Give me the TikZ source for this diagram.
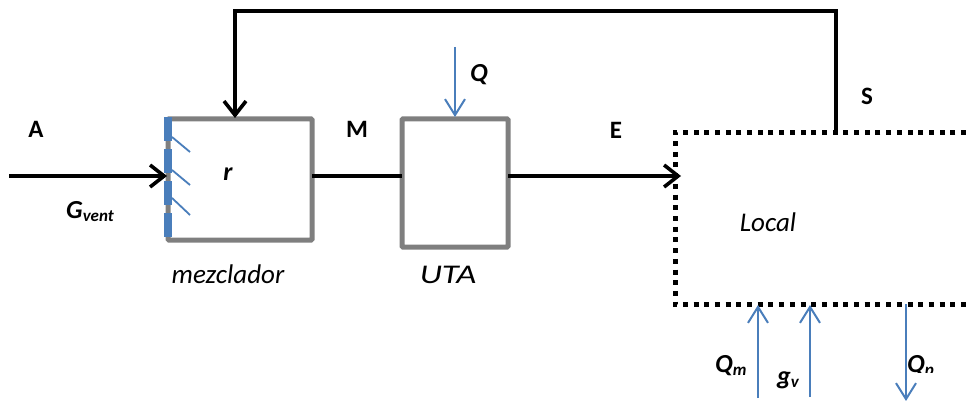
\documentclass[tikz,border=0pt]{standalone}
\usepackage{fontspec}
\setmainfont{Carlito}
\usetikzlibrary{arrows.meta}
\definecolor{boxgray}{RGB}{127,127,127}
\definecolor{flowblue}{RGB}{74,126,187}
\tikzset{
  x=1pt,y=-1pt,
  unitbox/.style={draw=boxgray,line width=5pt,rounded corners=1pt,inner sep=0pt,outer sep=0pt,anchor=north west},
  flow/.style={draw=black,line width=3.6pt,-{Straight Barb[length=14pt,width=22pt,line width=3.6pt]}},
  plainflow/.style={draw=black,line width=3.6pt},
  heat/.style={draw=flowblue,line width=2pt,-{Straight Barb[length=16pt,width=20pt,line width=2pt]}},
  damper/.style={fill=flowblue,draw=none,minimum width=8pt,minimum height=24pt,inner sep=0pt,outer sep=0pt},
  blade/.style={draw=flowblue,line width=1.8pt},
  bold/.style={font=\fontsize{25}{27}\selectfont\bfseries,inner sep=0pt},
  boldit/.style={font=\fontsize{26}{28}\selectfont\bfseries\itshape,inner sep=0pt},
  ital/.style={font=\fontsize{27}{29}\selectfont\itshape,inner sep=0pt},
}
\newcommand{\subs}[1]{\raisebox{-3pt}{\fontsize{17}{17}\selectfont #1}}
\begin{document}
\begin{tikzpicture}
\useasboundingbox (0,0) rectangle (966,401);
% boxes
\node[unitbox,minimum width=144pt,minimum height=121pt] (mix) at (168,119) {};
\node[unitbox,minimum width=106pt,minimum height=128pt] (uta) at (402,119) {};
% local (open at the right)
\coordinate (ltr) at (966,132.5);
\coordinate (ltl) at (675,132.5);
\coordinate (lbl) at (675,304.5);
\coordinate (lbr) at (966,304.5);
\draw[line width=5pt,dash pattern=on 5pt off 5.7pt] (ltr) -- (ltl) -- (lbl) -- (lbr);
% dampers
\node[damper] (d1) at (168,129) {};
\node[damper] (d2) at (168,161) {};
\node[damper] (d3) at (168,193) {};
\node[damper] (d4) at (168,225) {};
\coordinate (b1) at (190,152);
\coordinate (b2) at (190,185);
\coordinate (b3) at (190,215);
\draw[blade] ([yshift=4pt]d1.south east) -- (b1);
\draw[blade] ([yshift=3pt]d2.south east) -- (b2);
\draw[blade] ([yshift=7pt]d3.south east) -- (b3);
% main flows
\coordinate (inA) at (9,176);
\coordinate (mixin) at (167,176);
\draw[flow] (inA) -- (mixin);
\draw[plainflow] (mix.east |- 0,176) -- (uta.west |- 0,176);
\coordinate (locin) at (681,176);
\draw[flow] (uta.east |- 0,176) -- (locin);
% recirculation
\coordinate (s0) at (836,132);
\coordinate (s1) at (836,11);
\coordinate (s2) at (235,11);
\coordinate (s3) at (235,118);
\draw[flow] (s0) -- (s1) -- (s2) -- (s3);
% heat flows
\coordinate (q0) at (455,47);
\coordinate (q1) at (455,117);
\draw[heat] (q0) -- (q1);
\coordinate (m0) at (758,398);
\coordinate (m1) at (758,305);
\draw[heat] (m0) -- (m1);
\coordinate (g0) at (810,397);
\coordinate (g1) at (810,305);
\draw[heat] (g0) -- (g1);
\coordinate (p0) at (906,304);
\coordinate (p1) at (906,401);
\draw[heat] (p0) -- (p1);
% labels
\node[bold] (lA) at (36,129) {A};
\node[bold] (lM) at (357,129) {M};
\node[bold] (lE) at (616,130) {E};
\node[bold] (lS) at (867,96) {S};
\node[boldit] (lr) at (228,174) {r};
\node[boldit] (lQ) at (479,75) {Q};
\node[boldit,anchor=base west] (lG) at (66,218) {G\subs{vent}};
\node[ital] (lmez) at (228,274) {mezclador};
\node[ital] (luta) at (448,275) {\scalebox{1.28}[1]{UTA}};
\node[ital] (lloc) at (768,222) {Local};
\node[boldit,anchor=base west] (lQm) at (715,372) {Q\subs{m}};
\node[boldit,anchor=base west] (lgv) at (777,384) {g\subs{v}};
\begin{scope}
\clip (890,340) rectangle (966,372.5);
\node[boldit,anchor=base west] (lQp) at (907,372) {Q\subs{p}};
\end{scope}
\end{tikzpicture}
\end{document}
